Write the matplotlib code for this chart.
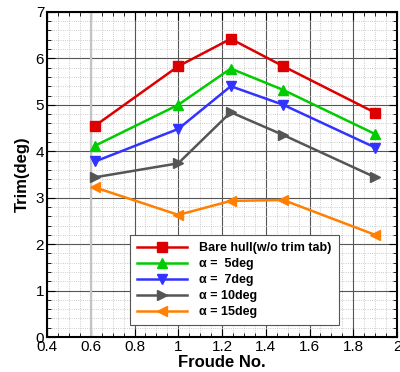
import numpy as np
import matplotlib
matplotlib.use("Agg")
import matplotlib.pyplot as plt
from matplotlib.ticker import MultipleLocator

plt.rcParams['font.family'] = ['Liberation Sans', 'DejaVu Sans']

froude = [0.62, 1.0, 1.24, 1.48, 1.9]
bare_hull = [4.55, 5.83, 6.42, 5.83, 4.83]
alpha_5 = [4.12, 5.0, 5.78, 5.32, 4.37]
alpha_7 = [3.78, 4.48, 5.4, 5.0, 4.08]
alpha_10 = [3.44, 3.74, 4.84, 4.35, 3.44]
alpha_15 = [3.22, 2.63, 2.93, 2.95, 2.2]

labels = ['Bare hull(w/o trim tab)', 'α =  5deg', 'α =  7deg',
          'α = 10deg', 'α = 15deg']
series = [bare_hull, alpha_5, alpha_7, alpha_10, alpha_15]
colors = ['#dd0000', '#00cc00', '#3333ff', '#555555', '#ff8000']
markers = ['s', '^', 'v', '>', '<']

fig = plt.figure(figsize=(4.0, 3.72), dpi=100)
ax = fig.add_axes([0.1175, 0.094, 0.875, 0.874])

for y, lab, c, m in zip(series, labels, colors, markers):
    ax.plot(froude, y, color=c, marker=m, markersize=7, linewidth=1.8, label=lab, zorder=3)

ax.set_xlim(0.4, 2.0)
ax.set_ylim(0, 7)
ax.xaxis.set_minor_locator(MultipleLocator(0.05))
ax.yaxis.set_major_locator(MultipleLocator(1))
ax.yaxis.set_minor_locator(MultipleLocator(0.2))
ax.set_xticks(np.arange(0.4, 2.01, 0.2))
ax.set_xticklabels(['0.4', '0.6', '0.8', '1', '1.2', '1.4', '1.6', '1.8', '2'])

ax.grid(which='major', color='#555555', linewidth=0.8, linestyle='-')
ax.grid(which='minor', color='#bbbbbb', linewidth=0.6, linestyle=':')
ax.axvline(0.6, color='#c4c4c4', linewidth=1.6, zorder=1)
ax.set_axisbelow(True)

ax.tick_params(which='both', direction='in', top=True, right=True, labelsize=11, pad=2)
ax.tick_params(which='major', length=6)
ax.tick_params(which='minor', length=3)
for s in ax.spines.values():
    s.set_linewidth(1.5)

ax.set_xlabel('Froude No.', fontsize=12, fontweight='bold', labelpad=1)
ax.set_ylabel('Trim(deg)', fontsize=12, fontweight='bold', labelpad=4)

leg = ax.legend(loc='lower left', bbox_to_anchor=(0.237, 0.037), handlelength=4.0,
                fancybox=False, framealpha=1, edgecolor='#555555',
                prop={'weight': 'bold', 'size': 9}, borderpad=0.55, labelspacing=0.32,
                handletextpad=1.0, borderaxespad=0)
leg.get_frame().set_linewidth(0.8)

fig.savefig('out.png', dpi=100)
